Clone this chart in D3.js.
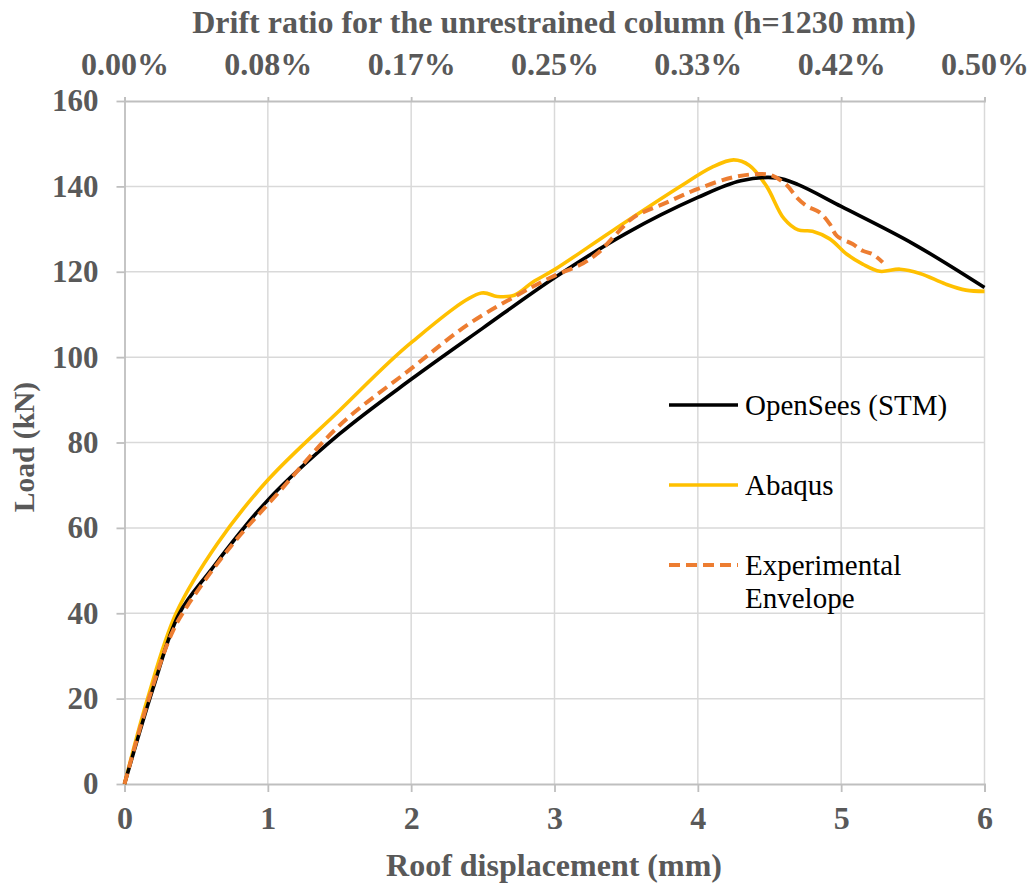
<!DOCTYPE html>
<html>
<head>
<meta charset="utf-8">
<script src="https://cdn.jsdelivr.net/npm/d3@7"></script>
<style>
  body { margin: 0; background: #fff; }
</style>
</head>
<body>
<svg id="chart" width="1030" height="883"></svg>
<script>
// bottom axis: roof displacement (mm), left axis: load (kN)
var xTicks = [0, 1, 2, 3, 4, 5, 6];
var yTicks = [0, 20, 40, 60, 80, 100, 120, 140, 160];
var driftLabels = ["0.00%", "0.08%", "0.17%", "0.25%", "0.33%", "0.42%", "0.50%"];

// OpenSees (STM)
var openseesX = [0, 0.2, 0.38, 0.6, 1.0, 1.5, 2.0, 2.5, 3.0, 3.5, 4.0, 4.3, 4.55, 4.7, 5.0, 5.5, 6.0];
var openseesY = [0, 22.5, 39.8, 50, 66.5, 82, 94.8, 106.8, 118.6, 129, 137.4, 141.3, 142, 140.4, 135.3, 126.6, 116.3];

// Abaqus
var abaqusX = [0, 0.16, 0.36, 0.65, 1.0, 1.5, 2.0, 2.49, 2.6, 2.72, 2.85, 3.0, 3.4, 3.86, 4.1, 4.25, 4.36, 4.48, 4.6, 4.7, 4.8, 4.92, 5.04, 5.15, 5.27, 5.41, 5.55, 5.73, 5.87, 6.0];
var abaqusY = [0, 19.9, 40, 56.4, 71.2, 87.5, 103.4, 115, 114.2, 114.5, 117.6, 120.5, 129.5, 139.6, 144.5, 146.2, 144.9, 140, 132.5, 129.8, 129.5, 127.7, 124.1, 121.8, 120.1, 120.6, 119.6, 117.1, 115.7, 115.4];

// Experimental envelope
var expX = [0, 0.17, 0.33, 0.44, 0.74, 1.07, 1.5, 2.0, 2.39, 2.74, 2.97, 3.2, 3.31, 3.43, 3.55, 3.78, 4.0, 4.24, 4.43, 4.52, 4.62, 4.69, 4.76, 4.85, 4.92, 4.97, 5.08, 5.15, 5.22, 5.29];
var expY = [0, 20, 35.3, 41.8, 55.6, 68.1, 84, 97.3, 107.5, 114.5, 118.6, 122, 124.6, 128.8, 132.7, 136.2, 139.4, 142.1, 142.9, 142.5, 140.3, 137.4, 135.4, 133.9, 131.2, 128.4, 126.5, 124.9, 124.1, 122.2];

var seriesNames = ["OpenSees (STM)", "Abaqus", "Experimental Envelope"];
var seriesColors = ["#000000", "#FFC000", "#ED7D31"];
var seriesWidths = [3.6, 3.6, 4];

var serif = "'Liberation Serif', 'Times New Roman', serif";
var svg = d3.select("#chart");
var plotLeft = 124.5, plotRight = 984.5, plotTop = 101, plotBottom = 784;

var x = d3.scaleLinear().domain([0, 6]).range([plotLeft, plotRight]);
var y = d3.scaleLinear().domain([0, 160]).range([plotBottom, plotTop]);
var xTop = d3.scalePoint().domain(driftLabels).range([plotLeft, plotRight]);

// gridlines
svg.append("g").selectAll("line")
   .data(xTicks.slice(1))
   .enter().append("line")
   .attr("x1", function(d){ return x(d); })
   .attr("x2", function(d){ return x(d); })
   .attr("y1", plotTop).attr("y2", plotBottom)
   .attr("stroke", "#d9d9d9").attr("stroke-width", 1.5);
svg.append("g").selectAll("line")
   .data(yTicks.slice(1, -1))
   .enter().append("line")
   .attr("x1", plotLeft).attr("x2", plotRight)
   .attr("y1", function(d){ return y(d); })
   .attr("y2", function(d){ return y(d); })
   .attr("stroke", "#d9d9d9").attr("stroke-width", 1.5);

// axes
function styleAxis(size){
   return function(g){
      g.attr("font-family", serif).attr("font-size", size).attr("font-weight", "bold");
      g.selectAll("path.domain").attr("stroke", "#bfbfbf").attr("stroke-width", 1.8);
      g.selectAll(".tick line").attr("stroke", "#bfbfbf").attr("stroke-width", 1.8);
      g.selectAll(".tick text").attr("fill", "#595959");
   };
}
svg.append("g").attr("transform", "translate(0," + plotBottom + ")")
   .call(d3.axisBottom(x).tickValues(xTicks).tickFormat(d3.format("d")).tickSize(8).tickSizeOuter(8).tickPadding(14))
   .call(styleAxis(32));
svg.append("g").attr("transform", "translate(" + plotLeft + ",0)")
   .call(d3.axisLeft(y).tickValues(yTicks).tickSize(8).tickSizeOuter(0).tickPadding(18))
   .call(styleAxis(31));
svg.append("g").attr("transform", "translate(0," + plotTop + ")")
   .call(d3.axisTop(xTop).tickSize(4).tickSizeOuter(4).tickPadding(22))
   .call(styleAxis(32));

// axis titles
function axisTitle(size){
   return svg.append("text")
      .attr("font-family", serif).attr("font-weight", "bold")
      .attr("font-size", size).attr("fill", "#595959")
      .attr("text-anchor", "middle");
}
axisTitle(32).attr("x", 554).attr("y", 33)
   .text("Drift ratio for the unrestrained column (h=1230 mm)");
axisTitle(32).attr("x", 554).attr("y", 876)
   .text("Roof displacement (mm)");
axisTitle(29.5).attr("transform", "translate(34,447) rotate(-90)")
   .text("Load (kN)");

// curves
var line = d3.line()
   .x(function(d){ return x(d[0]); })
   .y(function(d){ return y(d[1]); })
   .curve(d3.curveCatmullRom.alpha(0.5));

var seriesData = [
   d3.zip(openseesX, openseesY),
   d3.zip(abaqusX, abaqusY),
   d3.zip(expX, expY)
];
var drawOrder = [1, 0, 2];
drawOrder.forEach(function(i){
   svg.append("path")
      .attr("d", line(seriesData[i]))
      .attr("fill", "none")
      .attr("stroke", seriesColors[i])
      .attr("stroke-width", seriesWidths[i])
      .attr("stroke-linejoin", "round")
      .attr("stroke-dasharray", i == 2 ? "11,6" : null);
});

// legend
var legendY = [405, 485, 565];
seriesNames.forEach(function(name, i){
   svg.append("line")
      .attr("x1", 669).attr("x2", 738)
      .attr("y1", legendY[i]).attr("y2", legendY[i])
      .attr("stroke", seriesColors[i]).attr("stroke-width", seriesWidths[i])
      .attr("stroke-dasharray", i == 2 ? "11,6" : null);
   var words = i == 2 ? ["Experimental", "Envelope"] : [name];
   words.forEach(function(w, j){
      svg.append("text")
         .attr("font-family", serif).attr("font-size", 29).attr("fill", "#000")
         .attr("x", 745).attr("y", legendY[i] + 10 + j * 33)
         .text(w);
   });
});
</script>
</body>
</html>
